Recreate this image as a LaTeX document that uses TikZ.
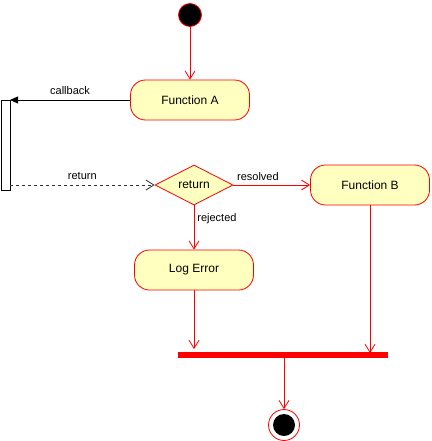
\documentclass[tikz,border=0pt]{standalone}
\usepackage{fontspec}
\setmainfont{Liberation Sans}
\usetikzlibrary{arrows.meta,shapes.geometric}
\definecolor{actfill}{HTML}{FFFFC0}
\definecolor{actline}{HTML}{FF0000}
\definecolor{dashgray}{HTML}{333333}
\tikzset{
  act/.style={draw=actline, fill=actfill, rounded corners=15pt, minimum width=119pt, minimum height=40pt, inner sep=0pt, font=\fontsize{12}{14}\selectfont, line width=0.8pt},
  decision/.style={diamond, aspect=1.95, draw=actline, fill=actfill, minimum width=78pt, minimum height=40pt, inner sep=0pt, font=\fontsize{12}{14}\selectfont, line width=0.8pt},
  flow/.style={draw=actline, line width=0.8pt, -{Straight Barb[length=8pt,width=10pt]}},
  lbl/.style={font=\fontsize{11}{13}\selectfont, inner sep=0pt},
}
\begin{document}
\begin{tikzpicture}[x=1pt,y=-1pt]
\useasboundingbox (0,0) rectangle (431,441);
% start
\node[circle, fill=black, draw=actline, line width=0.8pt, minimum size=23pt, inner sep=0pt] (start) at (190,15) {};
% activation bar
\node[draw=black, fill=white, line width=0.8pt, minimum width=9pt, minimum height=90pt, inner sep=0pt, anchor=north west] (bar) at (1,100) {};
\node[act] (fa) at (190,100) {Function A};
\node[decision] (dec) at (194,185) {return};
\node[act] (fb) at (370,185) {Function B};
\node[act] (le) at (194,270) {Log Error};
% join bar
\node[fill=actline, minimum width=210pt, minimum height=6pt, inner sep=0pt] (join) at (283,355) {};
% end
\node[circle, draw=actline, fill=white, line width=0.8pt, minimum size=31pt, inner sep=0pt] (endo) at (284,425) {};
\node[circle, fill=black, minimum size=22pt, inner sep=0pt] (endi) at (284,425) {};
\coordinate (barcb) at (10,100);
\coordinate (barret) at (10,185);
\coordinate (jl) at (194,349);
\coordinate (jr) at (370,353);
\coordinate (jb) at (284,358);

\draw[flow] (start) -- (fa);
\draw[draw=black, line width=0.8pt, -{Triangle[length=8pt,width=7pt]}] (fa.west) -- (barcb)
  node[lbl, pos=0.5, above=5pt] (cbl) {callback};
\draw[draw=dashgray, dashed, line width=0.8pt, -{Straight Barb[length=8pt,width=10pt]}] (barret) -- (dec.west)
  node[lbl, midway, above=5pt, color=black] (retl) {return};
\draw[flow] (dec.east) -- (fb.west)
  node[lbl, pos=0.32, above=4pt] (resl) {resolved};
\draw[flow] (dec.south) -- (le.north)
  node[lbl, pos=0.3, right=3pt] (rejl) {rejected};
\draw[flow] (le.south) -- (jl);
\draw[flow] (fb.south) -- (jr);
\draw[flow] (jb) -- (endo.north);
\end{tikzpicture}
\end{document}
